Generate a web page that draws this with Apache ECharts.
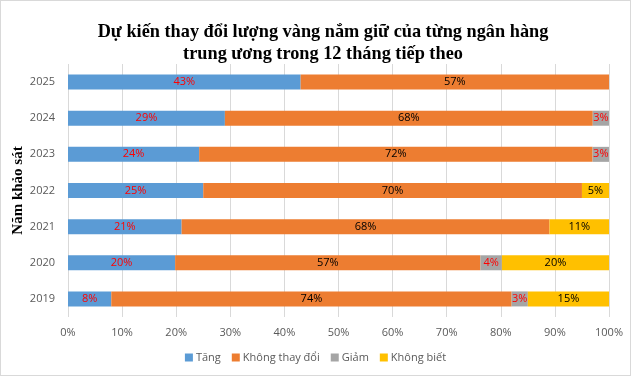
<!DOCTYPE html>
<html>
<head>
<meta charset="utf-8">
<script src="https://cdn.jsdelivr.net/npm/echarts@6/dist/echarts.min.js"></script>
<style>
  html, body { margin: 0; padding: 0; background: #fff; }
  #chart { width: 629px; height: 374px; border: 1px solid #d9d9d9; }
</style>
</head>
<body>
<div id="chart"></div>
<script>
// du lieu doc tu hinh
var years = ['2019', '2020', '2021', '2022', '2023', '2024', '2025']
var tang = [8, 20, 21, 25, 24, 29, 43]
var khongDoi = [74, 57, 68, 70, 72, 68, 57]
var giam = [3, 4, 0, 0, 3, 3, 0]
var khongBiet = [15, 20, 11, 5, 0, 0, 0]
var tickLabels = ['0%', '10%', '20%', '30%', '40%', '50%', '60%', '70%', '80%', '90%', '100%']

var myChart = echarts.init(document.getElementById('chart'))

// 100% stacked: chia theo tong tung nam
var totals = years.map(function (y, i) {
  return tang[i] + khongDoi[i] + giam[i] + khongBiet[i]
})

function makeSeries (name, values, color, labelColor) {
  return {
    name: name,
    type: 'bar',
    stack: 'all',
    barWidth: 15,
    itemStyle: { color: color },
    label: {
      show: true,
      position: 'inside',
      color: labelColor,
      fontSize: 11,
      fontFamily: 'Open Sans',
      formatter: function (p) { return values[p.dataIndex] + '%' }
    },
    data: values.map(function (v, i) {
      return v > 0 ? v / totals[i] * 100 : null
    })
  }
}

var option = {
  animation: false,
  title: {
    text: 'Dự kiến thay đổi lượng vàng nắm giữ của từng ngân hàng\ntrung ương trong 12 tháng tiếp theo',
    left: 317,
    textAlign: 'center',
    top: 15,
    textStyle: {
      fontFamily: 'Liberation Serif',
      fontWeight: 'bold',
      fontSize: 18.3,
      lineHeight: 22,
      color: '#000'
    }
  },
  legend: {
    bottom: 7,
    left: 'center',
    itemWidth: 8,
    itemHeight: 8,
    itemGap: 11,
    icon: 'rect',
    textStyle: { color: '#595959', fontSize: 11, fontFamily: 'Open Sans', padding: [0, 0, 0, -2] },
    data: ['Tăng', 'Không thay đổi', 'Giảm', 'Không biết']
  },
  grid: { left: 67, right: 21, top: 63, bottom: 58, outerBoundsMode: 'none' },
  xAxis: {
    type: 'value',
    min: 0,
    max: 100,
    interval: 10,
    axisLine: { show: false },
    axisTick: { show: false },
    splitLine: { lineStyle: { color: '#d9d9d9' } },
    axisLabel: {
      color: '#595959',
      fontSize: 11,
      fontFamily: 'Open Sans',
      margin: 10,
      formatter: function (v) { return tickLabels[Math.round(v / 10)] }
    }
  },
  yAxis: {
    type: 'category',
    data: years,
    name: 'Năm khảo sát',
    nameLocation: 'middle',
    nameGap: 42,
    nameMoveOverlap: false,
    nameTextStyle: {
      fontFamily: 'Liberation Serif',
      fontWeight: 'bold',
      fontSize: 15,
      color: '#000'
    },
    axisLine: { show: false },
    axisTick: { show: false },
    axisLabel: { color: '#595959', fontSize: 11, fontFamily: 'Open Sans', margin: 13 }
  },
  series: [
    makeSeries('Tăng', tang, '#5b9bd5', '#ff0000'),
    makeSeries('Không thay đổi', khongDoi, '#ed7d31', '#000'),
    makeSeries('Giảm', giam, '#a5a5a5', '#ff0000'),
    makeSeries('Không biết', khongBiet, '#ffc000', '#000')
  ]
}

myChart.setOption(option)
</script>
</body>
</html>
